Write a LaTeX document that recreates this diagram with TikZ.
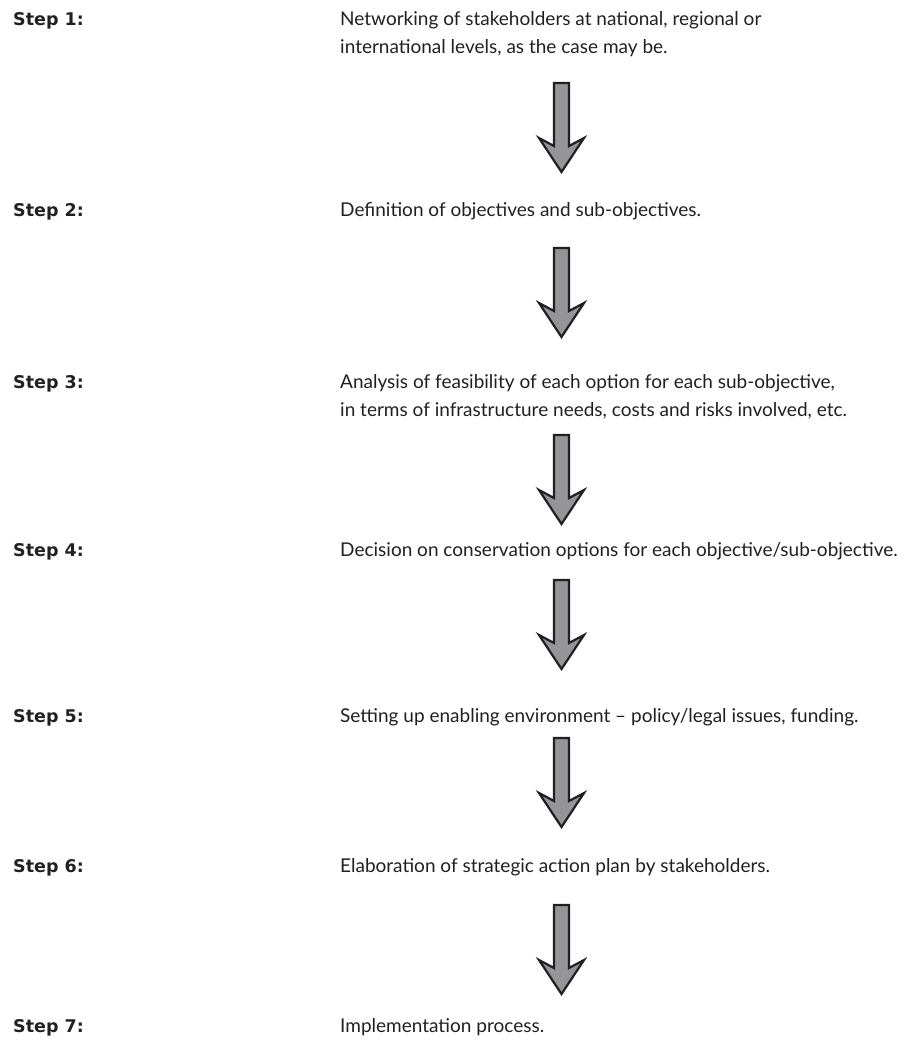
\documentclass[tikz,border=0pt]{standalone}
\usepackage{fontspec}
\setmainfont{Lato}
\newfontfamily\labelfont{DejaVu Sans}
\definecolor{arrowfill}{HTML}{939598}
\definecolor{arrowline}{HTML}{231F20}
\definecolor{txt}{HTML}{231F20}
\begin{document}
\begin{tikzpicture}[x=1pt,y=1pt,
  steplabel/.style={anchor=base west,inner sep=0pt,font=\labelfont\bfseries\fontsize{17.5}{20}\selectfont,text=txt},
  steptext/.style={anchor=base west,inner sep=0pt,align=left,font=\fontsize{19}{28}\selectfont,text=txt},
  blockarrow/.style={draw=arrowline,fill=arrowfill,line width=2.2pt,line join=miter},
  downarrow/.pic={\path[blockarrow] (-7.5,0) -- (-7.5,-63) -- (-22.5,-55) -- (0,-89) -- (22.5,-55) -- (7.5,-63) -- (7.5,0) -- cycle;}]
\useasboundingbox (0,0) rectangle (920,-1042);
% step labels
\node[steplabel] (s1) at (13,-25) {Step 1:};
\node[steplabel] (s2) at (13,-216) {Step 2:};
\node[steplabel] (s3) at (13,-388) {Step 3:};
\node[steplabel] (s4) at (13,-556) {Step 4:};
\node[steplabel] (s5) at (13,-722) {Step 5:};
\node[steplabel] (s6) at (13,-872) {Step 6:};
\node[steplabel] (s7) at (13,-1032) {Step 7:};
% texts (multi-line nodes are anchored at the baseline of their last line)
\node[steptext] (t1) at (340,-53) {Networking of stakeholders at national, regional or\\international levels, as the case may be.};
\node[steptext] (t2) at (340,-216) {Definition of objectives and sub-objectives.};
\node[steptext] (t3) at (340,-416) {Analysis of feasibility of each option for each sub-objective,\\in terms of infrastructure needs, costs and risks involved, etc.};
\node[steptext] (t4) at (340,-556) {Decision on conservation options for each objective/sub-objective.};
\node[steptext] (t5) at (340,-722) {Setting up enabling environment -- policy/legal issues, funding.};
\node[steptext] (t6) at (340,-872) {Elaboration of strategic action plan by stakeholders.};
\node[steptext] (t7) at (340,-1032) {Implementation process.};
% arrows
\coordinate (a1) at (561.5,-83);
\coordinate (a2) at (561.5,-248);
\coordinate (a3) at (561.5,-435);
\coordinate (a4) at (561.5,-580);
\coordinate (a5) at (561.5,-738);
\coordinate (a6) at (561.5,-905);
\foreach \a in {a1,a2,a3,a4,a5,a6} \pic at (\a) {downarrow};
\end{tikzpicture}
\end{document}
